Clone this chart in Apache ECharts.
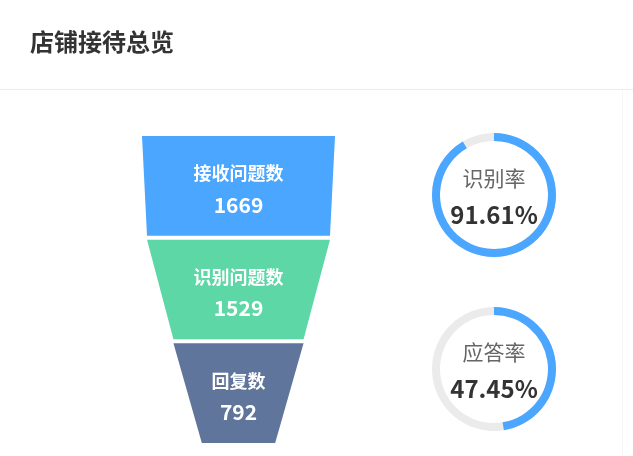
<!DOCTYPE html>
<html>
<head>
<meta charset="utf-8">
<script src="https://cdn.jsdelivr.net/npm/echarts@6/dist/echarts.min.js"></script>
<style>
html,body{margin:0;padding:0;background:#fff;}
#chart{width:633px;height:456px;}
</style>
</head>
<body>
<div id="chart"></div>
<script>
var titleText = '店铺接待总览';
var funnelNames = ['接收问题数', '识别问题数', '回复数'];
var funnelValues = [1669, 1529, 792];
var funnelColors = ['#4aa6ff', '#5cd7a5', '#5f759b'];
var rateNames = ['识别率', '应答率'];
var rateValues = [91.61, 47.45];

var FONT = '"Noto Sans CJK SC", "Noto Sans", sans-serif';
var chart = echarts.init(document.getElementById('chart'), null, {renderer: 'canvas'});

function gauge(i, cy) {
  return {
    type: 'gauge',
    center: [494, cy],
    radius: 62,
    min: 0, max: 100,
    startAngle: 90, endAngle: -270,
    pointer: {show: false},
    anchor: {show: false},
    axisTick: {show: false},
    splitLine: {show: false},
    axisLabel: {show: false},
    axisLine: {lineStyle: {width: 8, color: [[1, '#ebebeb']]}},
    progress: {show: true, width: 8, roundCap: false, itemStyle: {color: '#4aa6ff'}},
    title: {offsetCenter: [0, -17], color: '#666', fontSize: 21, fontFamily: FONT, fontWeight: 'normal'},
    detail: {offsetCenter: [0, 20], color: '#333', fontSize: 24, fontWeight: 'bold', fontFamily: FONT,
      formatter: function (v) { return v.toFixed(2) + '%'; }, valueAnimation: false},
    data: [{name: rateNames[i], value: rateValues[i]}],
    animation: false
  };
}

chart.setOption({
  animation: false,
  title: {
    text: titleText, left: 30, top: 30, padding: 0,
    textStyle: {fontSize: 24, fontWeight: 'bold', color: '#333', fontFamily: FONT}
  },
  graphic: [
    {type: 'line', shape: {x1: 0, y1: 89.5, x2: 633, y2: 89.5}, style: {stroke: '#ececec', lineWidth: 1}},
    {type: 'line', shape: {x1: 622.5, y1: 90, x2: 622.5, y2: 456}, style: {stroke: '#f6f6f6', lineWidth: 1}}
  ],
  series: [
    {
      type: 'funnel',
      left: 142, top: 136, width: 193, height: 307,
      min: 0, max: 1669,
      minSize: '38%', maxSize: '100%',
      sort: 'descending', gap: 4,
      label: {
        show: true, position: 'inside',
        formatter: function (p) { return '{n|' + p.name + '}\n{v|' + p.value + '}'; },
        rich: {
          n: {fontSize: 18, fontWeight: 'bold', color: '#fff', fontFamily: FONT, lineHeight: 38},
          v: {fontSize: 21, fontWeight: 'bold', color: '#fff', fontFamily: FONT, lineHeight: 25}
        }
      },
      labelLine: {show: false},
      itemStyle: {borderWidth: 0},
      data: funnelNames.map(function (n, i) {
        return {name: n, value: funnelValues[i], itemStyle: {color: funnelColors[i]}};
      })
    },
    gauge(0, 195),
    gauge(1, 369)
  ]
});
</script>
</body>
</html>
